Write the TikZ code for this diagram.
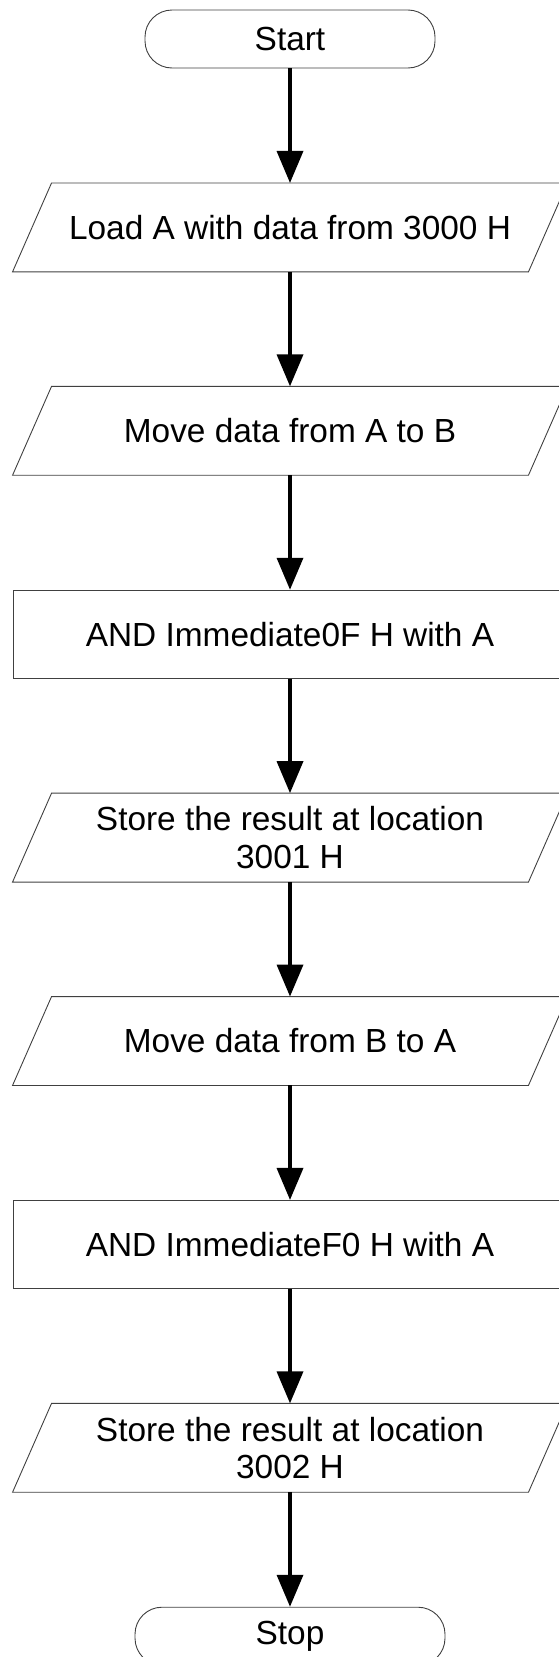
\documentclass[tikz,border=0pt]{standalone}
\usepackage{fontspec}
\setmainfont{Liberation Sans}
\usetikzlibrary{positioning,arrows.meta}

\begin{document}
\begin{tikzpicture}[
        node distance=114.5pt,
        every node/.style={
            draw=black!75,
            line width=0.9pt,
            font=\fontsize{33.4}{37.5}\selectfont,
            align=center,
            inner sep=4pt
        },
        term/.style={rectangle, rounded corners=27pt, minimum height=58pt},
        io/.style={rectangle, draw=none, minimum width=515pt, minimum height=88pt,
            append after command={\pgfextra{
                \draw[draw=black!75, line width=0.9pt]
                    ([xshift=-19.5pt]\tikzlastnode.south west) -- ([xshift=19.5pt]\tikzlastnode.north west)
                    -- ([xshift=19.5pt]\tikzlastnode.north east) -- ([xshift=-19.5pt]\tikzlastnode.south east)
                    -- cycle;}}},
        proc/.style={rectangle, minimum width=554pt, minimum height=88pt},
        arrow/.style={-{Triangle[length=32pt,width=26pt]}, line width=3.6pt}
    ]
        \useasboundingbox (0,0) rectangle (559pt,-1657pt);
        \clip (0,0) rectangle (559pt,-1657pt);

        % nodes
        \node (start) [term, minimum width=290pt] at (290pt,-39pt) {Start};
        \node (load) [io, below=of start] {Load A with data from 3000 H};
        \node (movab) [io, below=of load] {Move data from A to B};
        \node (andlo) [proc, below=of movab] {AND Immediate0F H with A};
        \node (store1) [io, below=of andlo] {Store the result at location\\3001 H};
        \node (movba) [io, below=of store1] {Move data from B to A};
        \node (andhi) [proc, below=of movba] {AND ImmediateF0 H with A};
        \node (store2) [io, below=of andhi] {Store the result at location\\3002 H};
        \node (stop) [term, minimum width=310pt, below=of store2] {Stop};

        % arrows
        \draw[arrow] (start) -- (load);
        \draw[arrow] (load) -- (movab);
        \draw[arrow] (movab) -- (andlo);
        \draw[arrow] (andlo) -- (store1);
        \draw[arrow] (store1) -- (movba);
        \draw[arrow] (movba) -- (andhi);
        \draw[arrow] (andhi) -- (store2);
        \draw[arrow] (store2) -- (stop);
    \end{tikzpicture}
\end{document}
